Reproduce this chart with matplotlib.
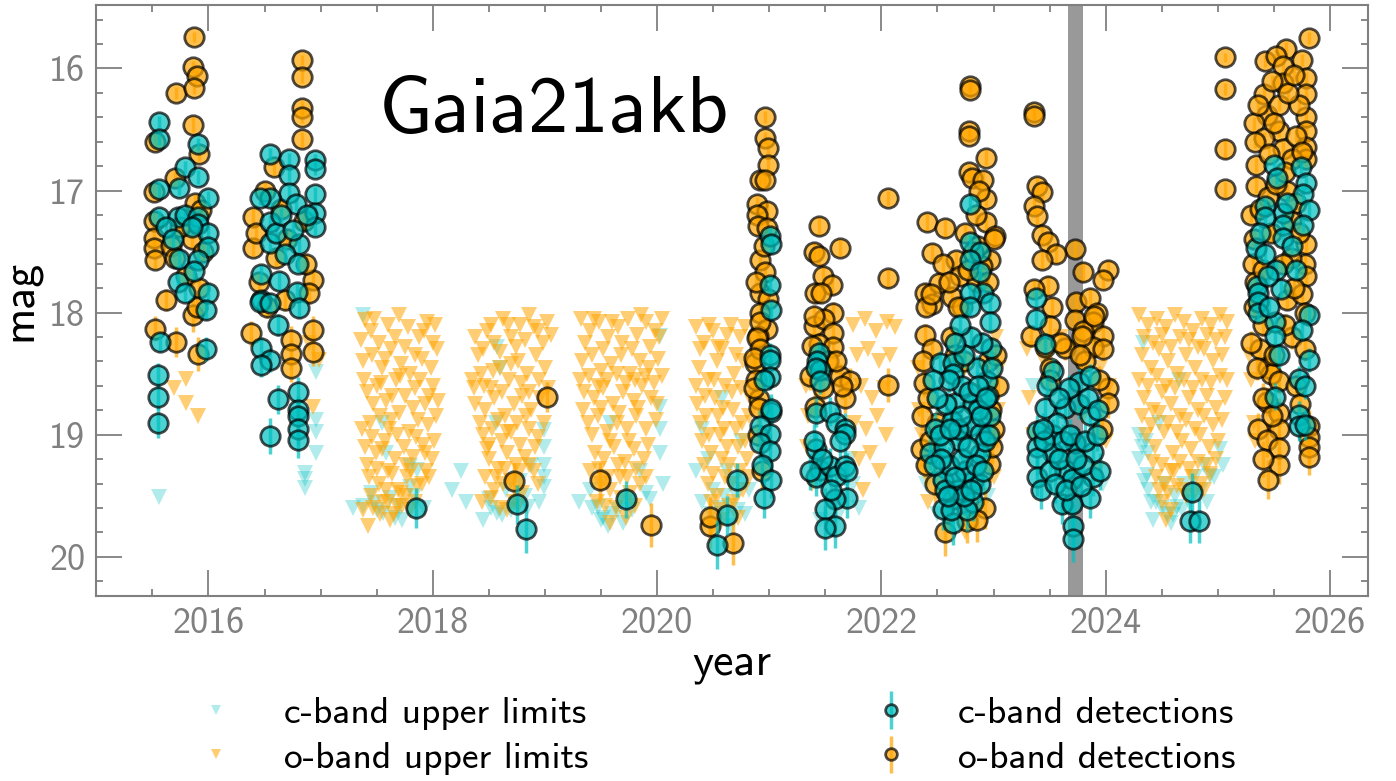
import matplotlib
matplotlib.use('Agg')
import matplotlib.pyplot as plt
from matplotlib.ticker import MultipleLocator

plt.rcParams['font.family'] = ['cmss10', 'DejaVu Sans']
plt.rcParams['axes.unicode_minus'] = False

# ATLAS photometry: (year, mag, err) for detections, (year, mag) for upper limits
c_det = [
    # 2015
    (2015.56, 16.44, 0.05), (2015.56, 16.58, 0.05), (2015.56, 16.99, 0.06), (2015.56, 17.22, 0.06),
    (2015.74, 16.98, 0.06), (2015.91, 16.62, 0.05), (2015.79, 16.81, 0.05), (2015.91, 16.89, 0.06),
    (2016.00, 17.06, 0.06), (2015.73, 17.22, 0.06), (2015.79, 17.20, 0.06), (2015.91, 17.22, 0.06),
    (2015.91, 17.27, 0.06), (2016.00, 17.35, 0.06), (2016.00, 17.46, 0.07), (2015.74, 17.56, 0.07),
    (2015.91, 17.57, 0.07), (2015.73, 17.75, 0.07), (2015.79, 17.84, 0.07), (2016.00, 17.84, 0.08),
    (2015.98, 17.98, 0.08), (2015.57, 18.24, 0.08), (2015.98, 18.30, 0.10), (2015.55, 18.51, 0.10),
    (2015.55, 18.69, 0.11), (2015.55, 18.90, 0.13), (2015.62, 17.30, 0.06), (2015.68, 17.40, 0.06),
    (2015.85, 17.30, 0.06), (2015.87, 17.66, 0.07),
    # 2016
    (2016.55, 16.70, 0.05), (2016.72, 16.74, 0.05), (2016.72, 16.87, 0.05), (2016.95, 16.75, 0.05),
    (2016.95, 16.82, 0.05), (2016.72, 17.02, 0.06), (2016.55, 17.06, 0.06), (2016.46, 17.06, 0.06),
    (2016.78, 17.11, 0.06), (2016.95, 17.03, 0.06), (2016.95, 17.18, 0.06), (2016.95, 17.30, 0.06),
    (2016.55, 17.26, 0.06), (2016.55, 17.43, 0.06), (2016.81, 17.44, 0.06), (2016.68, 17.52, 0.07),
    (2016.80, 17.60, 0.07), (2016.47, 17.68, 0.07), (2016.63, 17.74, 0.07), (2016.79, 17.83, 0.07),
    (2016.47, 17.90, 0.08), (2016.46, 17.91, 0.08), (2016.55, 17.92, 0.08), (2016.81, 17.96, 0.08),
    (2016.47, 18.29, 0.09), (2016.55, 18.39, 0.10), (2016.47, 18.43, 0.10), (2016.62, 18.10, 0.09),
    (2016.62, 18.71, 0.12), (2016.55, 19.01, 0.15), (2016.80, 18.65, 0.12), (2016.80, 18.80, 0.12),
    (2016.80, 18.85, 0.13), (2016.80, 18.95, 0.13), (2016.80, 19.04, 0.15), (2016.60, 17.35, 0.06),
    (2016.65, 17.20, 0.06), (2016.88, 17.20, 0.06), (2016.75, 17.32, 0.06),
    # 2017 - 2020 faint detections
    (2017.85, 19.60, 0.16), (2018.75, 19.57, 0.16), (2018.83, 19.77, 0.20), (2019.72, 19.53, 0.15),
    (2020.53, 19.90, 0.20), (2020.62, 19.66, 0.16), (2020.71, 19.37, 0.14),
    # late 2020 rise
    (2021.01, 17.37, 0.06), (2021.02, 17.44, 0.06), (2021.01, 17.77, 0.07), (2021.02, 17.98, 0.08),
    (2021.01, 18.35, 0.10), (2021.01, 18.39, 0.10), (2021.01, 18.53, 0.10), (2020.95, 18.55, 0.10),
    (2021.02, 18.81, 0.12), (2021.02, 18.79, 0.12), (2020.92, 18.93, 0.13), (2021.01, 18.99, 0.13),
    (2020.92, 19.07, 0.14), (2021.01, 19.13, 0.14), (2020.94, 19.25, 0.15), (2021.02, 19.37, 0.15),
    (2020.95, 19.52, 0.16),
    # 2021
    (2021.44, 18.33, 0.10), (2021.43, 18.40, 0.10), (2021.45, 18.47, 0.10), (2021.42, 18.45, 0.10),
    (2021.45, 18.56, 0.11), (2021.42, 18.82, 0.12), (2021.54, 18.81, 0.12), (2021.60, 18.90, 0.13),
    (2021.68, 18.95, 0.13), (2021.68, 18.99, 0.13), (2021.42, 19.12, 0.14), (2021.45, 19.29, 0.15),
    (2021.42, 19.35, 0.15), (2021.54, 19.26, 0.15), (2021.60, 19.34, 0.15), (2021.68, 19.26, 0.15),
    (2021.69, 19.30, 0.15), (2021.69, 19.52, 0.16), (2021.59, 19.53, 0.16), (2021.50, 19.61, 0.17),
    (2021.59, 19.75, 0.18), (2021.50, 19.76, 0.18), (2021.40, 19.05, 0.14), (2021.47, 19.20, 0.14),
    (2021.63, 19.05, 0.14), (2021.36, 19.30, 0.15), (2021.55, 19.45, 0.16),
    # 2022
    (2022.79, 17.11, 0.06), (2022.79, 17.42, 0.06), (2022.88, 17.50, 0.07), (2022.79, 17.57, 0.07),
    (2022.88, 17.67, 0.07), (2022.91, 17.84, 0.07), (2022.79, 17.84, 0.07), (2022.97, 17.92, 0.08),
    (2022.97, 18.08, 0.08), (2022.79, 17.95, 0.08), (2022.98, 18.29, 0.09), (2022.94, 18.56, 0.10),
    (2022.95, 18.68, 0.11), (2022.52, 18.41, 0.10), (2022.64, 18.41, 0.10), (2022.64, 18.50, 0.10),
    (2022.66, 18.74, 0.11), (2022.63, 18.89, 0.12), (2022.79, 18.93, 0.12), (2022.88, 18.99, 0.13),
    (2022.97, 18.85, 0.12), (2022.43, 19.15, 0.14), (2022.88, 19.16, 0.14), (2022.82, 19.38, 0.15),
    (2022.88, 19.40, 0.15), (2022.55, 19.37, 0.15), (2022.64, 19.53, 0.16), (2022.82, 19.55, 0.16),
    (2022.55, 19.61, 0.17), (2022.64, 19.72, 0.18), (2022.75, 19.30, 0.15), (2022.70, 19.05, 0.14),
    (2022.60, 19.25, 0.15), (2022.56, 19.10, 0.14), (2022.72, 18.60, 0.11), (2022.85, 18.45, 0.10),
    (2022.90, 18.25, 0.09), (2022.80, 18.20, 0.09), (2022.70, 18.10, 0.09), (2022.68, 19.45, 0.16),
    (2022.76, 19.62, 0.17), (2022.92, 19.05, 0.14), (2022.58, 18.75, 0.11), (2022.82, 18.75, 0.11),
    (2022.48, 18.95, 0.13), (2022.60, 18.55, 0.11), (2022.74, 18.35, 0.10), (2022.86, 18.80, 0.12),
    (2022.46, 18.55, 0.11), (2022.50, 18.70, 0.11), (2022.53, 19.20, 0.14), (2022.57, 19.45, 0.16),
    (2022.62, 19.62, 0.17), (2022.66, 19.35, 0.15), (2022.68, 18.95, 0.13), (2022.72, 19.20, 0.14),
    (2022.74, 19.50, 0.16), (2022.77, 19.10, 0.14), (2022.78, 18.65, 0.11), (2022.80, 19.45, 0.16),
    (2022.84, 19.25, 0.15), (2022.86, 18.60, 0.11), (2022.89, 18.85, 0.12), (2022.91, 19.30, 0.15),
    (2022.93, 18.70, 0.11), (2022.96, 19.00, 0.13), (2022.99, 18.45, 0.10), (2022.66, 18.25, 0.09),
    (2022.71, 18.85, 0.12), (2022.52, 19.00, 0.13), (2022.47, 19.25, 0.15), (2022.59, 19.50, 0.16),
    (2022.61, 18.95, 0.13),
    # 2023
    (2023.38, 17.88, 0.08), (2023.38, 18.05, 0.08), (2023.46, 18.26, 0.09), (2023.53, 18.48, 0.10),
    (2023.64, 18.78, 0.12), (2023.46, 18.78, 0.12), (2023.39, 18.97, 0.13), (2023.53, 19.00, 0.13),
    (2023.39, 19.10, 0.14), (2023.53, 19.15, 0.14), (2023.39, 19.19, 0.14), (2023.39, 19.35, 0.15),
    (2023.64, 19.29, 0.15), (2023.73, 19.07, 0.14), (2023.76, 18.75, 0.12), (2023.76, 18.57, 0.11),
    (2023.86, 18.52, 0.10), (2023.86, 18.84, 0.12), (2023.89, 19.14, 0.14), (2023.89, 19.35, 0.15),
    (2023.86, 19.52, 0.16), (2023.61, 19.57, 0.16), (2023.70, 19.57, 0.16), (2023.71, 19.75, 0.18),
    (2023.71, 19.85, 0.19), (2023.70, 19.36, 0.15), (2023.57, 18.90, 0.13), (2023.62, 19.05, 0.14),
    (2023.80, 19.25, 0.15), (2023.95, 19.30, 0.15), (2023.67, 18.62, 0.11), (2023.50, 19.30, 0.15),
    (2023.42, 19.45, 0.16), (2023.45, 19.05, 0.14), (2023.48, 18.60, 0.11), (2023.55, 19.40, 0.16),
    (2023.58, 19.20, 0.15), (2023.65, 19.45, 0.16), (2023.68, 19.00, 0.13), (2023.74, 19.20, 0.15),
    (2023.78, 19.42, 0.16), (2023.82, 19.05, 0.14), (2023.84, 18.70, 0.12), (2023.92, 19.00, 0.13),
    (2023.93, 18.80, 0.12), (2023.58, 18.70, 0.12), (2023.44, 18.95, 0.13),
    # 2024
    (2024.77, 19.47, 0.16), (2024.75, 19.71, 0.18), (2024.83, 19.71, 0.18),
    # 2025
    (2025.50, 16.79, 0.05), (2025.74, 16.81, 0.05), (2025.53, 16.90, 0.05), (2025.79, 16.94, 0.05),
    (2025.76, 17.03, 0.06), (2025.81, 17.16, 0.06), (2025.58, 17.18, 0.06), (2025.42, 17.13, 0.06),
    (2025.58, 17.28, 0.06), (2025.58, 17.39, 0.06), (2025.42, 17.22, 0.06), (2025.34, 17.47, 0.06),
    (2025.42, 17.52, 0.07), (2025.52, 17.65, 0.07), (2025.56, 17.81, 0.07), (2025.35, 17.78, 0.07),
    (2025.76, 17.28, 0.06), (2025.36, 17.84, 0.07), (2025.36, 17.91, 0.08), (2025.36, 18.00, 0.08),
    (2025.51, 18.08, 0.08), (2025.51, 18.19, 0.09), (2025.81, 18.02, 0.08), (2025.75, 18.14, 0.09),
    (2025.81, 18.39, 0.10), (2025.72, 18.54, 0.10), (2025.51, 18.69, 0.11), (2025.72, 18.84, 0.12),
    (2025.72, 18.93, 0.12), (2025.46, 17.95, 0.08), (2025.66, 17.45, 0.06), (2025.38, 17.35, 0.06),
    (2025.45, 17.70, 0.07), (2025.62, 17.10, 0.06), (2025.70, 17.65, 0.07), (2025.55, 18.35, 0.10),
    (2025.78, 18.60, 0.11), (2025.78, 18.92, 0.12),
]

o_det = [
    # 2015
    (2015.87, 15.74, 0.04), (2015.86, 15.99, 0.05), (2015.90, 16.06, 0.05), (2015.71, 16.20, 0.05),
    (2015.87, 16.16, 0.05), (2015.86, 16.46, 0.06), (2015.52, 16.60, 0.06), (2015.70, 16.90, 0.06),
    (2015.92, 16.70, 0.06), (2015.51, 17.01, 0.06), (2015.51, 17.25, 0.07), (2015.51, 17.39, 0.07),
    (2015.51, 17.47, 0.07), (2015.52, 17.57, 0.07), (2015.67, 17.45, 0.07), (2015.70, 17.55, 0.07),
    (2015.88, 17.10, 0.06), (2015.85, 17.40, 0.07), (2015.95, 17.50, 0.07), (2015.80, 17.70, 0.08),
    (2015.92, 17.80, 0.08), (2015.52, 18.13, 0.10), (2015.71, 18.24, 0.12), (2015.86, 18.02, 0.14),
    (2015.91, 18.34, 0.14), (2015.90, 17.95, 0.10), (2015.75, 17.30, 0.07), (2015.62, 17.90, 0.09),
    (2015.93, 17.16, 0.06),
    # 2016
    (2016.83, 15.93, 0.04), (2016.83, 16.07, 0.05), (2016.83, 16.32, 0.05), (2016.83, 16.40, 0.05),
    (2016.83, 16.58, 0.06), (2016.58, 16.81, 0.06), (2016.40, 17.22, 0.07), (2016.40, 17.47, 0.07),
    (2016.93, 17.73, 0.08), (2016.38, 18.17, 0.10), (2016.74, 18.22, 0.11), (2016.74, 18.34, 0.12),
    (2016.74, 18.45, 0.12), (2016.93, 18.14, 0.11), (2016.93, 18.32, 0.12), (2016.90, 17.84, 0.09),
    (2016.50, 17.00, 0.06), (2016.65, 17.15, 0.07), (2016.70, 17.40, 0.07), (2016.60, 17.55, 0.08),
    (2016.85, 17.25, 0.07), (2016.45, 17.75, 0.08), (2016.52, 17.95, 0.09), (2016.68, 17.90, 0.09),
    (2016.87, 17.60, 0.08), (2016.42, 17.35, 0.07),
    # 2018 - 2020 faint detections
    (2019.02, 18.69, 0.12), (2018.72, 19.38, 0.15), (2019.49, 19.37, 0.15), (2019.95, 19.74, 0.18),
    (2020.47, 19.75, 0.18), (2020.47, 19.67, 0.16), (2020.68, 19.89, 0.18),
    # late 2020 rise
    (2020.96, 16.40, 0.05), (2020.96, 16.57, 0.05), (2020.99, 16.65, 0.05), (2020.99, 16.79, 0.06),
    (2020.92, 16.91, 0.06), (2020.96, 16.91, 0.06), (2020.89, 17.11, 0.06), (2020.98, 17.17, 0.06),
    (2020.89, 17.20, 0.06), (2020.90, 17.29, 0.07), (2020.98, 17.31, 0.07), (2020.92, 17.57, 0.07),
    (2020.96, 17.67, 0.08), (2020.92, 17.84, 0.08), (2020.99, 17.89, 0.08), (2020.92, 18.00, 0.09),
    (2020.98, 18.13, 0.09), (2020.90, 18.19, 0.10), (2020.87, 18.41, 0.10), (2020.92, 18.08, 0.09),
    (2020.89, 18.21, 0.10), (2020.92, 18.30, 0.10), (2020.86, 18.37, 0.10), (2020.91, 18.71, 0.12),
    (2020.91, 18.78, 0.12), (2020.88, 18.55, 0.11), (2020.86, 18.62, 0.11), (2020.95, 17.45, 0.07),
    (2020.88, 17.75, 0.08), (2020.94, 19.30, 0.15), (2020.90, 19.00, 0.13),
    # 2021
    (2021.44, 17.29, 0.07), (2021.40, 17.50, 0.07), (2021.44, 17.54, 0.07), (2021.63, 17.47, 0.07),
    (2021.48, 17.70, 0.08), (2021.56, 17.77, 0.08), (2021.41, 17.84, 0.08), (2021.46, 17.84, 0.08),
    (2021.57, 18.00, 0.09), (2021.40, 18.11, 0.09), (2021.49, 18.05, 0.09), (2021.57, 18.17, 0.09),
    (2021.44, 18.26, 0.10), (2021.40, 18.03, 0.09), (2021.38, 18.27, 0.10), (2021.57, 18.28, 0.10),
    (2021.36, 18.52, 0.11), (2021.63, 18.52, 0.11), (2021.72, 18.56, 0.11), (2021.68, 18.70, 0.12),
    (2021.41, 18.77, 0.12), (2021.52, 18.40, 0.10), (2021.60, 18.40, 0.10), (2021.65, 18.60, 0.11),
    (2021.48, 18.62, 0.11), (2022.06, 17.06, 0.06), (2022.06, 17.72, 0.08), (2022.06, 18.59, 0.14),
    # 2022
    (2022.79, 16.14, 0.05), (2022.79, 16.18, 0.05), (2022.78, 16.51, 0.05), (2022.78, 16.55, 0.05),
    (2022.93, 16.73, 0.06), (2022.78, 16.85, 0.06), (2022.81, 16.90, 0.06), (2022.91, 16.91, 0.06),
    (2022.93, 17.07, 0.06), (2022.41, 17.26, 0.07), (2022.57, 17.31, 0.07), (2022.93, 17.26, 0.07),
    (2023.01, 17.37, 0.07), (2022.45, 17.51, 0.07), (2022.97, 17.57, 0.07), (2022.67, 17.57, 0.07),
    (2022.39, 17.84, 0.08), (2022.51, 17.76, 0.08), (2022.63, 17.87, 0.08), (2022.39, 18.18, 0.09),
    (2022.45, 17.93, 0.08), (2022.70, 17.70, 0.08), (2022.84, 17.20, 0.07), (2022.87, 17.00, 0.06),
    (2022.75, 17.35, 0.07), (2022.86, 17.45, 0.07), (2022.90, 17.62, 0.07), (2022.72, 17.95, 0.08),
    (2022.85, 17.75, 0.08), (2022.95, 17.75, 0.08), (2023.00, 17.40, 0.07), (2022.38, 18.58, 0.11),
    (2022.42, 18.70, 0.11), (2022.35, 19.12, 0.14), (2022.97, 19.24, 0.15), (2023.04, 18.60, 0.11),
    (2022.76, 19.71, 0.18), (2022.45, 18.30, 0.10), (2022.50, 18.90, 0.13), (2022.48, 19.40, 0.15),
    (2022.62, 18.20, 0.09), (2022.66, 18.35, 0.10), (2022.74, 18.40, 0.10), (2022.95, 18.40, 0.10),
    (2023.00, 18.95, 0.13), (2022.99, 19.10, 0.14), (2022.92, 19.60, 0.17), (2022.85, 19.70, 0.18),
    (2022.57, 19.80, 0.19), (2022.40, 17.95, 0.08), (2022.44, 17.85, 0.08), (2022.36, 18.85, 0.12),
    (2022.40, 19.25, 0.15), (2022.37, 18.40, 0.10), (2022.43, 19.05, 0.14), (2022.98, 18.80, 0.12),
    (2023.02, 18.35, 0.10), (2022.55, 17.60, 0.07), (2022.60, 17.75, 0.08), (2022.68, 17.95, 0.08),
    (2022.77, 17.65, 0.07), (2022.82, 17.50, 0.07),
    # 2023
    (2023.36, 16.36, 0.05), (2023.36, 16.39, 0.05), (2023.39, 16.96, 0.06), (2023.43, 17.01, 0.06),
    (2023.36, 17.13, 0.06), (2023.39, 17.21, 0.06), (2023.43, 17.36, 0.07), (2023.49, 17.42, 0.07),
    (2023.73, 17.48, 0.07), (2023.56, 17.52, 0.07), (2023.43, 17.57, 0.07), (2023.80, 17.67, 0.08),
    (2024.02, 17.65, 0.08), (2023.98, 17.73, 0.08), (2023.49, 17.78, 0.08), (2023.36, 17.81, 0.08),
    (2023.74, 17.91, 0.08), (2023.86, 17.88, 0.08), (2023.52, 17.95, 0.08), (2023.92, 18.00, 0.09),
    (2023.73, 18.06, 0.09), (2023.89, 18.08, 0.09), (2023.50, 18.11, 0.09), (2023.98, 18.19, 0.09),
    (2023.80, 18.15, 0.09), (2023.33, 18.19, 0.09), (2023.89, 18.28, 0.10), (2023.98, 18.30, 0.10),
    (2023.64, 18.29, 0.10), (2023.50, 18.45, 0.10), (2023.46, 18.28, 0.10), (2023.79, 18.19, 0.09),
    (2023.90, 18.03, 0.09), (2024.02, 18.62, 0.11), (2024.02, 18.74, 0.12), (2023.97, 18.95, 0.13),
    (2023.50, 18.55, 0.11), (2023.82, 18.40, 0.10), (2023.94, 18.55, 0.11), (2023.77, 18.35, 0.10),
    (2023.60, 18.25, 0.10),
    # 2025
    (2025.06, 15.91, 0.04), (2025.06, 16.17, 0.05), (2025.06, 16.66, 0.08), (2025.06, 16.99, 0.06),
    (2025.81, 15.75, 0.05), (2025.61, 15.84, 0.06), (2025.42, 15.94, 0.05), (2025.52, 15.90, 0.05),
    (2025.75, 15.93, 0.05), (2025.58, 15.98, 0.05), (2025.58, 16.12, 0.05), (2025.79, 16.08, 0.05),
    (2025.79, 16.21, 0.05), (2025.41, 16.21, 0.05), (2025.44, 16.38, 0.05), (2025.32, 16.45, 0.05),
    (2025.55, 16.30, 0.05), (2025.55, 16.51, 0.05), (2025.79, 16.40, 0.05), (2025.72, 16.30, 0.05),
    (2025.79, 16.51, 0.05), (2025.41, 16.57, 0.05), (2025.79, 16.64, 0.06), (2025.79, 16.74, 0.06),
    (2025.58, 16.66, 0.06), (2025.66, 16.74, 0.06), (2025.34, 16.79, 0.06), (2025.34, 16.96, 0.06),
    (2025.30, 17.20, 0.06), (2025.32, 17.40, 0.07), (2025.45, 17.05, 0.06), (2025.62, 17.00, 0.06),
    (2025.70, 17.10, 0.06), (2025.79, 17.44, 0.07), (2025.78, 17.60, 0.07), (2025.79, 17.70, 0.08),
    (2025.31, 17.60, 0.07), (2025.47, 17.35, 0.07), (2025.65, 17.55, 0.07), (2025.38, 18.30, 0.10),
    (2025.45, 18.45, 0.10), (2025.47, 18.50, 0.11), (2025.55, 18.56, 0.11), (2025.44, 18.73, 0.12),
    (2025.55, 18.82, 0.12), (2025.36, 18.95, 0.13), (2025.55, 18.95, 0.13), (2025.44, 19.04, 0.14),
    (2025.55, 19.11, 0.14), (2025.55, 19.25, 0.15), (2025.45, 19.37, 0.16), (2025.81, 18.93, 0.13),
    (2025.81, 19.02, 0.14), (2025.81, 19.10, 0.14), (2025.81, 19.18, 0.15), (2025.66, 18.20, 0.10),
    (2025.70, 18.60, 0.11), (2025.30, 18.25, 0.10), (2025.40, 18.10, 0.09), (2025.62, 17.90, 0.08),
    (2025.75, 17.85, 0.08), (2025.32, 17.95, 0.08), (2025.33, 16.60, 0.05), (2025.36, 16.30, 0.05),
    (2025.48, 16.10, 0.05), (2025.50, 16.45, 0.05), (2025.63, 16.20, 0.05), (2025.68, 16.05, 0.05),
    (2025.70, 16.55, 0.05), (2025.75, 16.68, 0.06), (2025.46, 16.70, 0.06), (2025.52, 16.95, 0.06),
    (2025.60, 16.85, 0.06), (2025.65, 17.25, 0.06), (2025.72, 17.35, 0.07), (2025.38, 17.15, 0.06),
    (2025.33, 17.75, 0.07), (2025.40, 17.65, 0.07), (2025.58, 17.60, 0.07), (2025.68, 17.80, 0.08),
    (2025.78, 18.00, 0.08), (2025.35, 18.45, 0.10), (2025.40, 18.70, 0.12), (2025.50, 18.35, 0.10),
    (2025.60, 18.10, 0.09), (2025.78, 18.30, 0.10), (2025.73, 18.75, 0.12), (2025.40, 19.20, 0.15),
    (2025.48, 18.85, 0.13),
]

c_lim = [
    (2015.56, 19.51),
    (2016.86, 19.31), (2016.86, 19.36), (2016.86, 19.44), (2016.96, 18.49), (2016.96, 18.98),
    (2016.96, 19.15), (2016.96, 18.88),
    # 2017
    (2017.29, 19.60), (2017.38, 18.02), (2017.55, 18.90), (2017.58, 19.15), (2017.80, 19.26),
    (2017.86, 19.29), (2017.80, 19.43), (2017.48, 19.56), (2017.56, 19.64), (2017.73, 19.70),
    (2017.62, 19.52), (2018.25, 19.30), (2018.30, 19.55), (2018.17, 19.45), (2017.92, 19.60),
    (2017.50, 19.62), (2017.66, 19.68), (2017.70, 19.58), (2017.45, 19.48), (2017.83, 19.50),
    (2017.38, 19.58),
    # 2018
    (2018.57, 18.28), (2018.56, 18.90), (2018.99, 18.96), (2018.99, 19.10), (2018.99, 19.25),
    (2018.99, 19.43), (2018.57, 19.64), (2018.50, 19.53), (2018.85, 19.59), (2018.88, 19.26),
    (2018.45, 19.70), (2018.65, 19.45), (2018.95, 19.55), (2018.78, 19.38), (2018.52, 19.60),
    (2018.62, 19.66), (2018.70, 19.62), (2018.99, 19.35), (2018.60, 18.45), (2018.82, 19.50),
    # 2019
    (2019.58, 18.90), (2020.03, 18.19), (2020.03, 18.77), (2020.03, 19.15), (2019.47, 19.59),
    (2019.56, 19.75), (2019.94, 19.53), (2019.40, 19.45), (2019.65, 19.62), (2019.85, 19.30),
    (2019.52, 19.68), (2019.75, 19.55), (2019.30, 19.55), (2020.05, 19.40), (2019.42, 19.60),
    (2019.50, 19.70), (2019.60, 19.65), (2019.70, 19.72), (2019.78, 19.62), (2019.90, 19.48),
    (2020.03, 18.95),
    # 2020
    (2020.45, 19.20), (2020.50, 19.45), (2020.55, 19.60), (2020.62, 19.30), (2020.70, 19.50),
    (2020.78, 19.65), (2020.66, 19.75), (2020.40, 18.95), (2020.75, 19.05), (2020.58, 18.70),
    (2020.40, 19.55), (2020.48, 19.65), (2020.60, 19.50), (2020.72, 19.62), (2020.82, 19.45),
    (2020.35, 19.30),
    # 2021 - 2023
    (2021.72, 19.20), (2021.75, 19.40), (2021.80, 19.60), (2021.62, 19.65), (2021.45, 19.70),
    (2021.70, 19.00),
    (2022.40, 19.40), (2022.50, 19.65), (2022.95, 19.50),
    (2023.35, 18.60), (2023.60, 19.60), (2023.98, 19.40),
    # 2024
    (2024.33, 18.25), (2024.30, 19.00), (2024.38, 19.15), (2024.37, 19.33), (2024.38, 19.45),
    (2024.45, 19.55), (2024.55, 19.65), (2024.62, 19.50), (2024.70, 19.40), (2024.80, 19.35),
    (2024.88, 19.25), (2024.93, 19.34), (2025.02, 19.12), (2024.64, 19.59), (2024.60, 19.66),
    (2024.48, 18.90), (2024.65, 18.55), (2024.42, 19.70), (2024.90, 19.55), (2024.32, 19.10),
    (2024.30, 19.20), (2024.34, 19.38), (2024.36, 19.05), (2024.40, 19.55), (2024.50, 19.60),
    (2024.58, 19.72), (2024.68, 19.62), (2024.74, 19.55), (2024.85, 19.45), (2024.97, 19.35),
    (2025.05, 19.25), (2024.52, 19.40),
]

o_lim = [
    (2015.69, 18.62), (2015.80, 18.54), (2015.80, 18.74), (2015.91, 18.85),
    (2016.93, 18.77), (2016.99, 18.39), (2016.90, 18.25),
    # 2017
    (2017.40, 18.06), (2017.45, 18.15), (2017.52, 18.25), (2017.60, 18.10), (2017.70, 18.02),
    (2017.78, 18.12), (2017.88, 18.20), (2017.95, 18.08), (2018.02, 18.10), (2017.38, 18.40),
    (2017.46, 18.35), (2017.55, 18.45), (2017.63, 18.30), (2017.72, 18.42), (2017.80, 18.50),
    (2017.90, 18.38), (2017.98, 18.45), (2018.04, 18.30), (2017.41, 18.65), (2017.50, 18.60),
    (2017.58, 18.72), (2017.67, 18.55), (2017.75, 18.68), (2017.84, 18.62), (2017.93, 18.75),
    (2018.00, 18.60), (2017.44, 18.90), (2017.53, 18.85), (2017.61, 18.95), (2017.70, 18.82),
    (2017.79, 18.98), (2017.87, 18.88), (2017.96, 18.92), (2018.03, 18.85), (2017.40, 19.10),
    (2017.49, 19.15), (2017.57, 19.05), (2017.66, 19.20), (2017.74, 19.10), (2017.82, 19.18),
    (2017.91, 19.08), (2017.99, 19.20), (2017.43, 19.35), (2017.52, 19.40), (2017.60, 19.30),
    (2017.69, 19.45), (2017.77, 19.35), (2017.86, 19.42), (2017.94, 19.30), (2017.47, 19.60),
    (2017.56, 19.55), (2017.65, 19.65), (2017.73, 19.58), (2017.42, 19.75), (2017.62, 19.70),
    (2017.80, 19.62), (2017.36, 18.22), (2017.48, 18.05), (2017.57, 18.38), (2017.66, 18.20),
    (2017.75, 18.28), (2017.84, 18.35), (2017.92, 18.15), (2018.00, 18.25), (2017.39, 18.55),
    (2017.47, 18.75), (2017.54, 18.58), (2017.64, 18.68), (2017.71, 18.52), (2017.82, 18.78),
    (2017.89, 18.55), (2017.97, 18.68), (2018.05, 18.72), (2017.37, 18.95), (2017.46, 19.02),
    (2017.55, 19.12), (2017.63, 18.88), (2017.68, 19.00), (2017.76, 19.25), (2017.85, 19.02),
    (2017.93, 19.15), (2018.01, 19.05), (2017.41, 19.25), (2017.50, 19.28), (2017.58, 19.45),
    (2017.64, 19.32), (2017.72, 19.48), (2017.81, 19.30), (2017.90, 19.40), (2017.97, 19.35),
    (2017.45, 19.50), (2017.53, 19.65), (2017.60, 19.55), (2017.68, 19.58), (2017.76, 19.50),
    (2017.84, 19.55), (2017.38, 19.62),
    # 2018
    (2018.40, 18.35), (2018.48, 18.15), (2018.55, 18.25), (2018.63, 18.05), (2018.70, 18.20),
    (2018.78, 18.10), (2018.86, 18.02), (2018.94, 18.15), (2019.02, 18.08), (2018.35, 18.55),
    (2018.43, 18.50), (2018.52, 18.62), (2018.60, 18.45), (2018.68, 18.55), (2018.76, 18.40),
    (2018.84, 18.50), (2018.92, 18.35), (2019.00, 18.45), (2018.38, 18.75), (2018.47, 18.80),
    (2018.55, 18.70), (2018.64, 18.85), (2018.72, 18.75), (2018.80, 18.68), (2018.88, 18.80),
    (2018.96, 18.70), (2018.45, 19.00), (2018.53, 18.95), (2018.62, 19.05), (2018.70, 18.98),
    (2018.78, 19.08), (2018.86, 18.95), (2018.94, 19.02), (2018.50, 19.20), (2018.58, 19.28),
    (2018.66, 19.15), (2018.74, 19.25), (2018.82, 19.18), (2018.90, 19.30), (2018.55, 19.45),
    (2018.63, 19.40), (2018.72, 19.55), (2018.80, 19.48), (2018.47, 19.35), (2018.60, 19.60),
    (2018.38, 18.20), (2018.45, 18.30), (2018.52, 18.10), (2018.60, 18.32), (2018.67, 18.10),
    (2018.74, 18.28), (2018.82, 18.22), (2018.90, 18.12), (2018.98, 18.25), (2019.05, 18.18),
    (2018.37, 18.62), (2018.46, 18.60), (2018.54, 18.48), (2018.62, 18.65), (2018.70, 18.42),
    (2018.79, 18.58), (2018.86, 18.65), (2018.95, 18.55), (2019.03, 18.62), (2018.42, 18.90),
    (2018.50, 19.08), (2018.58, 18.88), (2018.66, 18.98), (2018.75, 18.90), (2018.83, 18.85),
    (2018.91, 19.10), (2018.99, 18.90), (2018.48, 19.12), (2018.56, 19.35), (2018.64, 19.28),
    (2018.70, 19.38), (2018.78, 19.30), (2018.86, 19.25), (2018.94, 19.40), (2018.52, 19.52),
    (2018.66, 19.62), (2018.76, 19.58), (2018.44, 19.55),
    # 2019
    (2019.32, 18.05), (2019.40, 18.15), (2019.48, 18.08), (2019.56, 18.20), (2019.65, 18.12),
    (2019.74, 18.05), (2019.82, 18.18), (2019.90, 18.08), (2019.98, 18.15), (2020.04, 18.05),
    (2019.33, 18.40), (2019.42, 18.35), (2019.50, 18.48), (2019.59, 18.42), (2019.68, 18.35),
    (2019.76, 18.50), (2019.85, 18.40), (2019.93, 18.45), (2020.01, 18.38), (2019.35, 18.65),
    (2019.44, 18.70), (2019.52, 18.62), (2019.61, 18.75), (2019.70, 18.65), (2019.79, 18.72),
    (2019.87, 18.60), (2019.95, 18.70), (2019.38, 18.90), (2019.47, 18.85), (2019.55, 18.98),
    (2019.64, 18.90), (2019.73, 18.95), (2019.81, 18.85), (2019.90, 18.95), (2019.99, 18.88),
    (2019.45, 19.15), (2019.53, 19.20), (2019.62, 19.10), (2019.71, 19.22), (2019.79, 19.12),
    (2019.88, 19.20), (2019.50, 19.40), (2019.58, 19.45), (2019.67, 19.35), (2019.76, 19.48),
    (2019.85, 19.40), (2019.63, 19.60), (2019.72, 19.68), (2019.36, 18.25), (2019.44, 18.05),
    (2019.52, 18.30), (2019.60, 18.08), (2019.69, 18.25), (2019.78, 18.30), (2019.86, 18.02),
    (2019.94, 18.28), (2020.02, 18.20), (2019.31, 18.55), (2019.39, 18.52), (2019.47, 18.60),
    (2019.55, 18.55), (2019.64, 18.50), (2019.72, 18.58), (2019.80, 18.55), (2019.89, 18.52),
    (2019.97, 18.58), (2020.04, 18.52), (2019.34, 18.80), (2019.42, 19.00), (2019.50, 18.78),
    (2019.58, 19.05), (2019.66, 18.82), (2019.75, 19.05), (2019.83, 18.78), (2019.92, 19.08),
    (2020.00, 18.75), (2019.40, 19.30), (2019.48, 19.28), (2019.56, 19.35), (2019.65, 19.25),
    (2019.73, 19.35), (2019.81, 19.28), (2019.90, 19.35), (2019.46, 19.55), (2019.54, 19.58),
    (2019.68, 19.52), (2019.80, 19.58), (2019.58, 19.72),
    # 2020
    (2020.35, 18.12), (2020.42, 18.25), (2020.50, 18.15), (2020.58, 18.30), (2020.66, 18.10),
    (2020.74, 18.20), (2020.37, 18.45), (2020.45, 18.55), (2020.53, 18.40), (2020.61, 18.60),
    (2020.69, 18.50), (2020.77, 18.40), (2020.36, 18.75), (2020.44, 18.85), (2020.52, 18.70),
    (2020.60, 18.95), (2020.68, 18.80), (2020.76, 18.90), (2020.83, 18.70), (2020.40, 19.05),
    (2020.48, 19.15), (2020.56, 19.00), (2020.64, 19.25), (2020.72, 19.10), (2020.80, 19.20),
    (2020.45, 19.40), (2020.53, 19.50), (2020.61, 19.35), (2020.69, 19.55), (2020.77, 19.45),
    (2020.58, 19.70), (2020.38, 18.30), (2020.46, 18.10), (2020.54, 18.28), (2020.62, 18.18),
    (2020.70, 18.35), (2020.78, 18.12), (2020.35, 18.60), (2020.43, 18.68), (2020.51, 18.55),
    (2020.59, 18.78), (2020.67, 18.65), (2020.75, 18.62), (2020.82, 18.85), (2020.38, 18.90),
    (2020.46, 19.00), (2020.54, 18.85), (2020.62, 19.10), (2020.70, 18.95), (2020.78, 19.05),
    (2020.42, 19.25), (2020.50, 19.32), (2020.58, 19.20), (2020.66, 19.40), (2020.74, 19.30),
    (2020.82, 19.35), (2020.48, 19.55), (2020.56, 19.62), (2020.64, 19.58), (2020.72, 19.68),
    (2020.50, 19.75),
    # 2021
    (2021.75, 18.10), (2021.85, 18.05), (2021.95, 18.15), (2022.05, 18.08), (2022.12, 18.12),
    (2021.78, 18.35), (2021.88, 18.30), (2021.98, 18.40), (2022.08, 18.35), (2021.72, 18.65),
    (2021.82, 18.60), (2021.92, 18.70), (2022.02, 18.62), (2021.76, 18.90), (2021.86, 18.95),
    (2021.96, 18.85), (2022.04, 19.00), (2021.80, 19.20), (2021.90, 19.15), (2021.98, 19.30),
    (2021.84, 19.45), (2021.33, 18.60), (2021.35, 18.85), (2021.34, 19.10), (2021.38, 19.40),
    # 2022
    (2022.33, 18.45), (2022.34, 18.80), (2022.36, 19.00), (2022.38, 19.30), (2022.42, 19.55),
    (2023.02, 18.20), (2023.05, 18.45), (2023.04, 18.80), (2023.03, 19.05), (2023.00, 19.35),
    (2022.60, 19.75), (2022.75, 19.80),
    # 2023
    (2023.30, 18.30), (2023.32, 18.70), (2023.35, 19.00), (2023.45, 18.40), (2023.60, 18.20),
    (2023.70, 18.30), (2023.80, 18.85), (2023.95, 18.45), (2024.00, 19.05), (2024.03, 18.60),
    (2023.92, 19.30),
    # 2024
    (2024.30, 18.02), (2024.38, 18.10), (2024.46, 18.05), (2024.54, 18.12), (2024.62, 18.02),
    (2024.70, 18.08), (2024.78, 18.15), (2024.86, 18.05), (2024.94, 18.10), (2025.02, 18.02),
    (2025.08, 18.08), (2024.32, 18.35), (2024.40, 18.45), (2024.48, 18.30), (2024.56, 18.40),
    (2024.64, 18.50), (2024.72, 18.35), (2024.80, 18.45), (2024.88, 18.30), (2024.96, 18.40),
    (2025.04, 18.35), (2024.34, 18.70), (2024.42, 18.80), (2024.50, 18.65), (2024.58, 18.75),
    (2024.66, 18.85), (2024.74, 18.70), (2024.82, 18.80), (2024.90, 18.68), (2024.98, 18.78),
    (2025.06, 18.70), (2024.36, 19.00), (2024.44, 19.10), (2024.52, 18.98), (2024.60, 19.15),
    (2024.68, 19.05), (2024.76, 19.12), (2024.84, 19.00), (2024.92, 19.10), (2025.00, 19.05),
    (2024.45, 19.35), (2024.53, 19.40), (2024.61, 19.30), (2024.69, 19.45), (2024.77, 19.35),
    (2024.85, 19.40), (2024.93, 19.32), (2024.50, 19.55), (2024.58, 19.62), (2024.34, 18.20),
    (2024.42, 18.25), (2024.50, 18.18), (2024.58, 18.28), (2024.66, 18.20), (2024.74, 18.22),
    (2024.82, 18.28), (2024.90, 18.18), (2024.98, 18.22), (2025.06, 18.20), (2024.30, 18.55),
    (2024.38, 18.60), (2024.46, 18.52), (2024.54, 18.60), (2024.62, 18.62), (2024.70, 18.55),
    (2024.78, 18.62), (2024.86, 18.55), (2024.94, 18.58), (2025.02, 18.52), (2025.08, 18.55),
    (2024.32, 18.85), (2024.40, 18.92), (2024.48, 18.82), (2024.56, 18.90), (2024.64, 18.98),
    (2024.72, 18.88), (2024.80, 18.95), (2024.88, 18.85), (2024.96, 18.92), (2025.04, 18.88),
    (2024.42, 19.22), (2024.50, 19.25), (2024.58, 19.30), (2024.66, 19.22), (2024.74, 19.28),
    (2024.82, 19.22), (2024.90, 19.25), (2024.98, 19.20), (2024.48, 19.45), (2024.56, 19.48),
    (2024.64, 19.42), (2024.72, 19.50), (2024.80, 19.48), (2024.88, 19.45), (2024.54, 19.70),
    # 2025
    (2025.30, 18.55), (2025.32, 18.90), (2025.28, 18.35), (2025.33, 19.05),
]

# shaded interval
gap_start, gap_end = 2023.66, 2023.80

c_col = 'c'
o_col = 'orange'

fig, ax = plt.subplots(figsize=(13.96, 7.81), dpi=100)
fig.subplots_adjust(left=0.069, right=0.98, top=0.9936, bottom=0.237)

ax.axvspan(gap_start, gap_end, color='0.6', lw=0, zorder=0)

t, m = zip(*c_lim)
h_cul, = ax.plot(t, m, 'v', color=c_col, alpha=0.3, ms=12, mew=0, ls='none', zorder=1)
t, m = zip(*o_lim)
h_oul, = ax.plot(t, m, 'v', color=o_col, alpha=0.55, ms=12, mew=0, ls='none', zorder=1)

t, m, e = zip(*o_det)
h_od = ax.errorbar(t, m, yerr=e, fmt='o', color=o_col, ecolor=o_col, mec='k', ms=14, mew=2,
                   elinewidth=2.5, capsize=0, alpha=0.7, zorder=2)
t, m, e = zip(*c_det)
h_cd = ax.errorbar(t, m, yerr=e, fmt='o', color=c_col, ecolor=c_col, mec='k', ms=14, mew=2,
                   elinewidth=2.5, capsize=0, alpha=0.7, zorder=3)

ax.set_xlim(2015.0, 2026.34)
ax.set_ylim(20.32, 15.48)
ax.xaxis.set_major_locator(MultipleLocator(2))
ax.xaxis.set_minor_locator(MultipleLocator(0.5))
ax.yaxis.set_major_locator(MultipleLocator(1))
ax.yaxis.set_minor_locator(MultipleLocator(0.2))
ax.tick_params(which='both', direction='in', top=True, right=True, color='0.5',
               labelcolor='0.5', labelsize=26)
ax.tick_params(which='major', length=19, width=1.3, pad=8)
ax.tick_params(which='minor', length=5, width=1.3)
for s in ax.spines.values():
    s.set_color('0.5')
    s.set_linewidth(1.5)

ax.set_xlabel('year', fontsize=33, labelpad=2)
ax.set_ylabel('mag', fontsize=33, labelpad=6)

ax.text(0.222, 0.785, 'Gaia21akb', transform=ax.transAxes, fontsize=58, color='k')

leg_kw = dict(loc='center left', frameon=False, fontsize=27, markerscale=0.6,
              handlelength=1.8, handletextpad=0.9, labelspacing=0.3, borderaxespad=0)
fig.legend([h_cul, h_oul], ['c-band upper limits', 'o-band upper limits'],
           bbox_to_anchor=(0.12, 0.058), **leg_kw)
fig.legend([h_cd, h_od], ['c-band detections', 'o-band detections'],
           bbox_to_anchor=(0.603, 0.058), **leg_kw)

fig.savefig('out.png', dpi=100)
